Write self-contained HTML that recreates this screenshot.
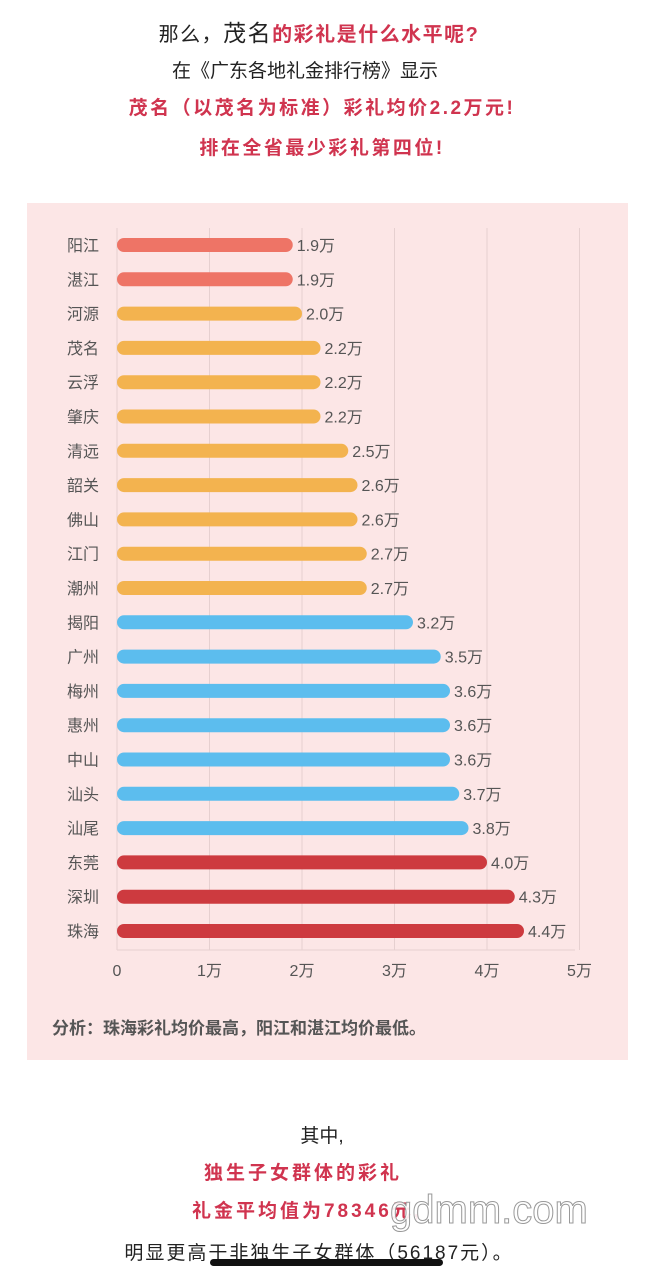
<!DOCTYPE html>
<html><head><meta charset="utf-8"><style>
body{margin:0;width:654px;height:1278px;background:#fff;font-family:"Liberation Sans","Noto Sans CJK SC",sans-serif;position:relative;overflow:hidden}
.t{position:absolute;left:0;width:654px;text-align:center;font-size:19px;color:#222;white-space:nowrap}
.r{color:#d0344f;font-weight:bold}
#box{position:absolute;left:27px;top:203px;width:601px;height:857px;background:#fce6e6}
</style></head><body>
<div class="t" style="top:14px;left:-8px;font-size:20px;letter-spacing:1.5px">那么，<span style="font-size:23px">茂名</span><span class="r">的彩礼是什么水平呢?</span></div>
<div class="t" style="top:56px;left:-22px">在《广东各地礼金排行榜》显示</div>
<div class="t r" style="top:93px;left:-5px;letter-spacing:2.5px">茂名（以茂名为标准）彩礼均价2.2万元!</div>
<div class="t r" style="top:133px;left:-5px;letter-spacing:2.5px">排在全省最少彩礼第四位!</div>
<div id="box"></div>
<svg id="chart" width="654" height="1278" style="position:absolute;left:0;top:0"></svg>
<div class="t" style="left:52px;width:auto;top:1014px;font-size:17px;color:#555;font-weight:bold">分析：珠海彩礼均价最高，阳江和湛江均价最低。</div>
<div class="t" style="top:1121px;left:-5px">其中,</div>
<div class="t r" style="top:1158px;left:-24px;letter-spacing:3px">独生子女群体的彩礼</div>
<div class="t r" style="top:1196px;left:-20px;letter-spacing:3px">礼金平均值为78346元,</div>
<div class="t" style="top:1238px;left:-8px;letter-spacing:2px">明显更高于非独生子女群体（56187元）。</div>
<div style="position:absolute;left:210px;top:1259px;width:233px;height:7px;background:#111;border-radius:4px"></div>
<div style="position:absolute;left:390px;top:1188px;font-size:40px;color:rgba(255,255,255,.9);-webkit-text-stroke:1px #999;font-family:'Liberation Sans',sans-serif">gdmm.com</div>
<script>
const cities=["阳江","湛江","河源","茂名","云浮","肇庆","清远","韶关","佛山","江门","潮州","揭阳","广州","梅州","惠州","中山","汕头","汕尾","东莞","深圳","珠海"];
const values=[1.9,1.9,2.0,2.2,2.2,2.2,2.5,2.6,2.6,2.7,2.7,3.2,3.5,3.6,3.6,3.6,3.7,3.8,4.0,4.3,4.4];
const ticks=[0,1,2,3,4,5];
const tickLabels=["0","1万","2万","3万","4万","5万"];
const groups=[0,0,1,1,1,1,1,1,1,1,1,2,2,2,2,2,2,2,3,3,3];
const colors=["#ee7466","#f3b34f","#5cbdee","#cd3a3f"];
const svg=document.getElementById('chart');const NS="http://www.w3.org/2000/svg";
const x=v=>117+v*92.5,y=i=>245+i*34.3;
function mk(t,a){const e=document.createElementNS(NS,t);for(const k in a)e.setAttribute(k,a[k]);svg.appendChild(e);return e;}
ticks.forEach((t,i)=>{
 const l=mk('line',{x1:x(t),x2:x(t),y1:228,y2:950,stroke:'#e6d0d0','stroke-width':1});
 
 
 const tx=mk('text',{x:x(t),y:976,'text-anchor':'middle','font-size':16,fill:'#555'});tx.textContent=tickLabels[i];
 
 
});
const base=mk('line',{x1:117,x2:575,y1:950,y2:950,stroke:'#e6d0d0'});
cities.forEach((c,i)=>{
 const cy=y(i);
 const lb=mk('text',{x:67,y:cy+6,'font-size':16,fill:'#555'});lb.textContent=c;
 
 
 const b=mk('rect',{x:117,y:cy-7,width:x(values[i])-117,height:14,rx:7,fill:colors[groups[i]]});
 
 
 const v=mk('text',{x:x(values[i])+4,y:cy+6,'font-size':16,fill:'#555'});v.textContent=values[i].toFixed(1)+'万';
 
 
});
</script>
</body></html>
